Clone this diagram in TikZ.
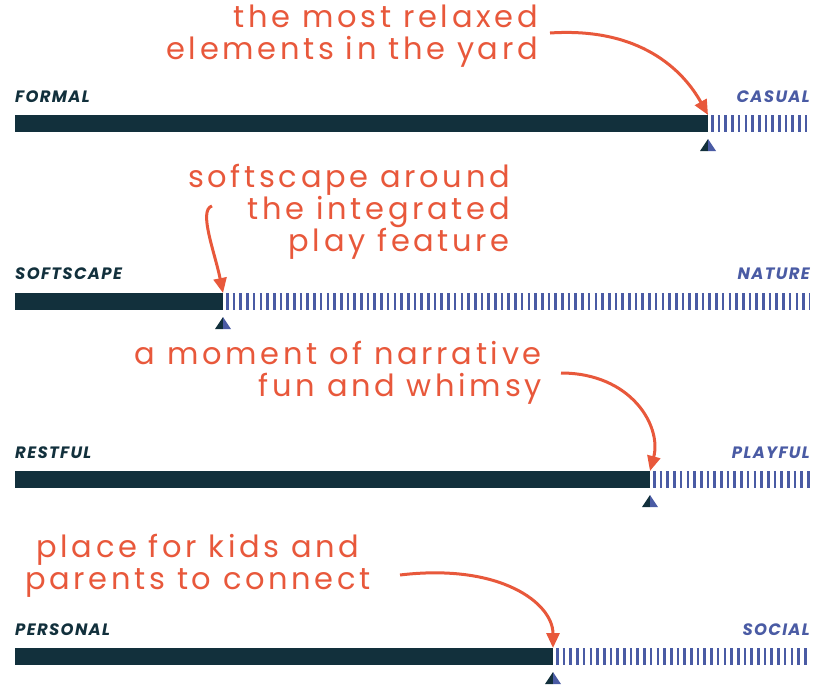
\documentclass[tikz,border=0pt]{standalone}
\usepackage{fontspec}
\usepackage{tikz}
\usetikzlibrary{arrows.meta}
\newfontfamily\notefont{Poppins}[LetterSpace=12]
\newfontfamily\tagfont{Poppins}[LetterSpace=8]
\definecolor{barnavy}{HTML}{12303C}
\definecolor{tickblue}{HTML}{4A5BA4}
\definecolor{noteorange}{HTML}{E8583B}

\begin{document}
\begin{tikzpicture}[x=1pt, y=-1pt,
  tag/.style={inner sep=0pt, font=\tagfont\fontsize{16.5}{16.5}\selectfont\bfseries\itshape},
  lefttag/.style={tag, text=barnavy, anchor=west},
  righttag/.style={tag, text=tickblue, anchor=east},
  note/.style={inner sep=0pt, text=noteorange, font=\notefont\fontsize{30.5}{32}\selectfont},
  notearrow/.style={draw=noteorange, line width=3pt, -{Triangle[length=15pt, width=13pt]}},
  bar/.style={fill=barnavy},
  ticks/.style={draw=tickblue, line width=17pt, dash pattern=on 2.6pt off 4.1pt}]
\path[use as bounding box] (0,0) rectangle (823,689);

\coordinate (left1) at (15,115);
\coordinate (split1) at (708,115);
\coordinate (right1) at (810,115);
\coordinate (left2) at (15,293);
\coordinate (split2) at (223,293);
\coordinate (right2) at (810,293);
\coordinate (left3) at (15,471);
\coordinate (split3) at (650,471);
\coordinate (right3) at (810,471);
\coordinate (left4) at (15,648);
\coordinate (split4) at (553,648);
\coordinate (right4) at (810,648);

\node[lefttag] (formal) at (15,97) {FORMAL};
\node[righttag] (casual) at (810,97) {CASUAL};
\node[lefttag] (softscape) at (15,274) {SOFTSCAPE};
\node[righttag] (nature) at (810,274) {NATURE};
\node[lefttag] (restful) at (15,453) {RESTFUL};
\node[righttag] (playful) at (810,453) {PLAYFUL};
\node[lefttag] (personal) at (15,630) {PERSONAL};
\node[righttag] (social) at (810,630) {SOCIAL};

\foreach \i in {1,...,4} {
  \fill[bar] (left\i) rectangle ([yshift=-17pt]split\i);
  \draw[ticks] ([shift={(3pt,-8.5pt)}]split\i) -- ([yshift=-8.5pt]right\i);
  \fill[barnavy] ([yshift=-24pt]split\i) -- ++(-8,12) -- ++(8,0) -- cycle;
  \fill[tickblue] ([yshift=-24pt]split\i) -- ++(8,12) -- ++(-8,0) -- cycle;
}

\node[note, align=right, anchor=east] (note1) at (538,36) {the most relaxed\\elements in the yard};
\node[note, align=right, anchor=east] (note2) at (510,212) {softscape around\\the integrated\\play feature};
\node[note, align=right, anchor=east] (note3) at (542,373) {a moment of narrative\\fun and whimsy};
\node[note, align=center] (note4) at (198,566) {place for kids and\\parents to connect};

\coordinate (tail1) at (550,33);
\coordinate (tail2) at (212,206);
\coordinate (tail3) at (561,373);
\coordinate (tail4) at (400,575);

\draw[notearrow] (tail1) .. controls +(90,-6) and +(-25,-45) .. (split1);
\draw[notearrow] (tail2) .. controls +(-14,4) and +(-8,-40) .. (split2);
\draw[notearrow] (tail3) .. controls +(70,0) and +(12,-45) .. (split3);
\draw[notearrow] (tail4) .. controls +(100,-12) and +(0,-45) .. (split4);
\end{tikzpicture}
\end{document}
